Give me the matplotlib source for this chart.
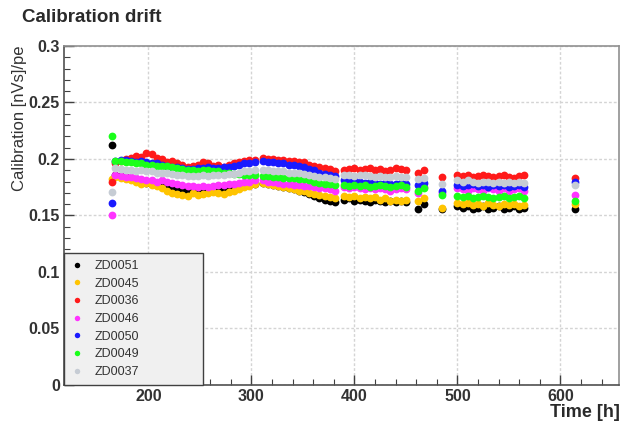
import matplotlib.pyplot as plt
from matplotlib.ticker import MultipleLocator

# measurement times [h]
t_a = [165, 168, 173, 178, 183, 188, 193, 198, 203, 208, 213, 218, 223, 228, 233,
       238, 243, 248, 253, 258, 263, 268, 273, 278, 283, 288, 293, 298, 303]
t_b = [311, 316, 321, 326, 331, 336, 341, 346, 351, 356, 361, 366, 371, 376, 381]
t_c = [390, 395, 400, 405, 410, 415, 420, 425, 430, 435, 440, 445, 450]
t_single = [462, 468, 485]
t_d = [500, 505, 510, 515, 520, 525, 530, 535, 540, 545, 550, 555, 560, 565]
t_last = [614]
times = t_a + t_b + t_c + t_single + t_d + t_last

# calibration constants [nVs/pe] per PMT
zd0051 = ([0.212, 0.186, 0.185, 0.184, 0.183, 0.181, 0.180, 0.179, 0.178, 0.177, 0.177, 0.176, 0.175, 0.174, 0.173,
           0.172, 0.172, 0.171, 0.172, 0.172, 0.173, 0.173, 0.172, 0.173, 0.174, 0.175, 0.176, 0.177, 0.178]
          + [0.179, 0.178, 0.177, 0.176, 0.175, 0.174, 0.173, 0.172, 0.171, 0.169, 0.167, 0.165, 0.164, 0.163, 0.162]
          + [0.164, 0.165, 0.163, 0.164, 0.163, 0.162, 0.164, 0.163, 0.162, 0.163, 0.162, 0.163, 0.162]
          + [0.156, 0.160, 0.156]
          + [0.158, 0.157, 0.158, 0.156, 0.157, 0.158, 0.156, 0.157, 0.158, 0.156, 0.157, 0.158, 0.156, 0.157]
          + [0.156])
zd0045 = ([0.182, 0.184, 0.183, 0.182, 0.181, 0.180, 0.178, 0.179, 0.177, 0.176, 0.174, 0.172, 0.170, 0.169, 0.168,
           0.167, 0.170, 0.168, 0.169, 0.170, 0.171, 0.170, 0.169, 0.171, 0.172, 0.173, 0.175, 0.176, 0.178]
          + [0.179, 0.178, 0.177, 0.176, 0.175, 0.174, 0.173, 0.172, 0.172, 0.170, 0.169, 0.168, 0.167, 0.166, 0.165]
          + [0.167, 0.166, 0.167, 0.165, 0.166, 0.165, 0.166, 0.164, 0.165, 0.163, 0.164, 0.163, 0.164]
          + [0.163, 0.165, 0.157]
          + [0.161, 0.160, 0.161, 0.159, 0.160, 0.158, 0.161, 0.159, 0.158, 0.160, 0.159, 0.160, 0.158, 0.159]
          + [0.160])
zd0036 = ([0.180, 0.196, 0.198, 0.200, 0.201, 0.203, 0.202, 0.205, 0.204, 0.201, 0.200, 0.197, 0.198, 0.196, 0.195,
           0.193, 0.194, 0.195, 0.197, 0.196, 0.194, 0.195, 0.193, 0.195, 0.196, 0.197, 0.198, 0.199, 0.199]
          + [0.201, 0.200, 0.200, 0.199, 0.199, 0.198, 0.198, 0.197, 0.197, 0.195, 0.194, 0.193, 0.192, 0.191, 0.189]
          + [0.190, 0.191, 0.192, 0.190, 0.191, 0.192, 0.190, 0.191, 0.189, 0.190, 0.192, 0.191, 0.190]
          + [0.188, 0.190, 0.184]
          + [0.186, 0.185, 0.186, 0.184, 0.185, 0.186, 0.185, 0.184, 0.185, 0.186, 0.184, 0.183, 0.185, 0.186]
          + [0.183])
zd0046 = ([0.150, 0.186, 0.185, 0.184, 0.184, 0.183, 0.182, 0.181, 0.181, 0.180, 0.181, 0.180, 0.179, 0.178, 0.177,
           0.176, 0.176, 0.175, 0.176, 0.175, 0.176, 0.177, 0.177, 0.178, 0.178, 0.179, 0.180, 0.180, 0.181]
          + [0.181, 0.180, 0.180, 0.179, 0.178, 0.178, 0.177, 0.177, 0.176, 0.176, 0.175, 0.174, 0.174, 0.173, 0.172]
          + [0.175, 0.174, 0.175, 0.174, 0.173, 0.174, 0.173, 0.174, 0.173, 0.172, 0.173, 0.174, 0.173]
          + [0.170, 0.175, 0.170]
          + [0.174, 0.173, 0.172, 0.174, 0.173, 0.172, 0.174, 0.173, 0.172, 0.174, 0.172, 0.173, 0.174, 0.172]
          + [0.168])
zd0050 = ([0.161, 0.198, 0.199, 0.199, 0.198, 0.197, 0.198, 0.197, 0.196, 0.196, 0.195, 0.194, 0.193, 0.193, 0.192,
           0.191, 0.191, 0.192, 0.192, 0.193, 0.192, 0.192, 0.193, 0.193, 0.194, 0.195, 0.196, 0.196, 0.197]
          + [0.198, 0.197, 0.197, 0.196, 0.196, 0.195, 0.195, 0.194, 0.193, 0.191, 0.190, 0.188, 0.187, 0.186, 0.185]
          + [0.181, 0.180, 0.181, 0.180, 0.179, 0.180, 0.179, 0.178, 0.179, 0.178, 0.178, 0.179, 0.178]
          + [0.177, 0.179, 0.172]
          + [0.177, 0.176, 0.177, 0.178, 0.176, 0.177, 0.175, 0.177, 0.176, 0.177, 0.175, 0.176, 0.177, 0.175]
          + [0.180])
zd0049 = ([0.220, 0.198, 0.198, 0.197, 0.197, 0.196, 0.196, 0.195, 0.195, 0.194, 0.194, 0.194, 0.193, 0.192, 0.191,
           0.190, 0.190, 0.189, 0.190, 0.190, 0.189, 0.189, 0.188, 0.188, 0.187, 0.187, 0.186, 0.186, 0.186]
          + [0.185, 0.185, 0.184, 0.184, 0.183, 0.183, 0.183, 0.182, 0.182, 0.181, 0.180, 0.179, 0.178, 0.178, 0.177]
          + [0.177, 0.176, 0.177, 0.176, 0.177, 0.175, 0.176, 0.177, 0.176, 0.175, 0.176, 0.177, 0.175]
          + [0.172, 0.174, 0.168]
          + [0.167, 0.166, 0.167, 0.165, 0.166, 0.167, 0.166, 0.165, 0.166, 0.167, 0.165, 0.166, 0.167, 0.165]
          + [0.163])
zd0037 = ([0.171, 0.192, 0.191, 0.190, 0.190, 0.189, 0.190, 0.189, 0.189, 0.188, 0.188, 0.188, 0.187, 0.186, 0.186,
           0.185, 0.185, 0.185, 0.186, 0.185, 0.186, 0.186, 0.186, 0.187, 0.187, 0.188, 0.189, 0.189, 0.190]
          + [0.190, 0.190, 0.189, 0.189, 0.189, 0.188, 0.188, 0.188, 0.187, 0.186, 0.185, 0.184, 0.184, 0.183, 0.182]
          + [0.186, 0.186, 0.185, 0.186, 0.186, 0.185, 0.184, 0.185, 0.184, 0.184, 0.185, 0.184, 0.184]
          + [0.182, 0.183, 0.178]
          + [0.181, 0.180, 0.181, 0.180, 0.179, 0.180, 0.180, 0.179, 0.180, 0.179, 0.180, 0.179, 0.180, 0.179]
          + [0.177])

labels = ["ZD0051", "ZD0045", "ZD0036", "ZD0046", "ZD0050", "ZD0049", "ZD0037"]
series = [zd0051, zd0045, zd0036, zd0046, zd0050, zd0049, zd0037]
colors = ["#000000", "#ffc400", "#ff1a1a", "#ff33ff", "#1a1aff", "#1aff1a", "#c6ccd4"]

x_ticks = [200, 300, 400, 500, 600]
y_ticks = [0, 0.05, 0.1, 0.15, 0.2, 0.25, 0.3]
y_tick_labels = ["0", "0.05", "0.1", "0.15", "0.2", "0.25", "0.3"]

plt.rcParams["font.family"] = ["Liberation Sans", "DejaVu Sans"]

fig = plt.figure(figsize=(6.21, 4.22), dpi=100)
ax = fig.add_axes([0.103, 0.088, 0.894, 0.803])

for vals, lab, col in zip(series, labels, colors):
    ax.plot(times, vals, "o", ms=5.6, mew=0, color=col, label=lab)

ax.set_xlim(118, 657)
ax.set_ylim(0, 0.3)
ax.set_xticks(x_ticks)
ax.set_xticklabels([str(v) for v in x_ticks])
ax.xaxis.set_minor_locator(MultipleLocator(20))
ax.set_yticks(y_ticks)
ax.set_yticklabels(y_tick_labels)
ax.yaxis.set_minor_locator(MultipleLocator(0.01))

ax.grid(True, which="major", color="#d4d4d4", lw=1.0, ls=(0, (2, 1.5)))
ax.set_axisbelow(True)
ax.tick_params(which="both", direction="in", top=False, right=False,
               colors="#404040", labelcolor="#333333")
ax.tick_params(which="major", length=7, width=1)
ax.tick_params(which="minor", length=4, width=0.8)
ax.tick_params(axis="both", labelsize=11.5, pad=3)
for lbl in ax.get_xticklabels() + ax.get_yticklabels():
    lbl.set_fontweight("bold")
for sp in ax.spines.values():
    sp.set_color("#505050")
    sp.set_linewidth(1.2)
ax.spines["top"].set_color("#909090")
ax.spines["right"].set_color("#909090")

leg = ax.legend(loc="lower left", bbox_to_anchor=(0, 0, 0.25, 0.378), mode="expand",
                borderaxespad=0, fancybox=False, framealpha=1, facecolor="#f0f0f0",
                edgecolor="#404040", fontsize=9, labelspacing=0.45, handletextpad=0.9,
                handlelength=1.0, borderpad=0.55, markerscale=0.7)
leg.get_frame().set_linewidth(1.0)
for txt in leg.get_texts():
    txt.set_color("#333333")

fig.text(0.035, 0.958, "Calibration drift", fontsize=13.5, fontweight="bold",
         color="#2a2a2a", ha="left", va="center")
fig.text(0.032, 0.893, "Calibration [nVs]/pe", fontsize=12, color="#333333",
         rotation=90, ha="center", va="top")
fig.text(0.998, 0.022, "Time [h]", fontsize=13, fontweight="bold",
         color="#2a2a2a", ha="right", va="center")

fig.savefig("out.png", dpi=100)
